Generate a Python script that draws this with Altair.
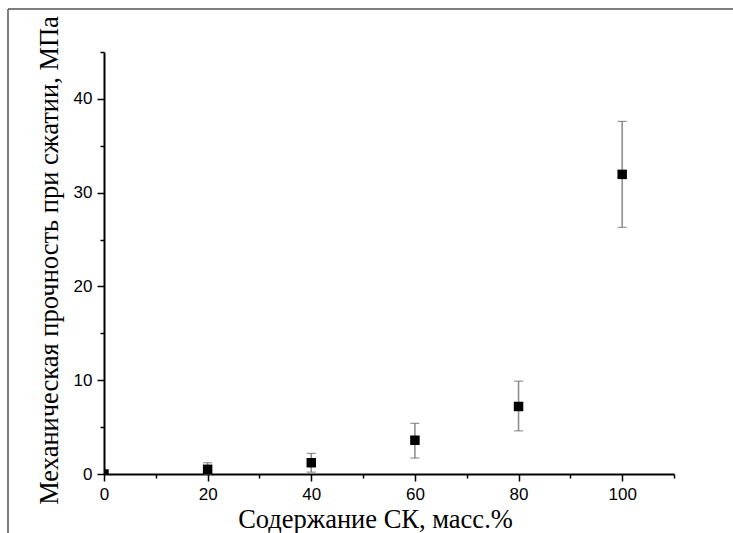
import altair as alt
import pandas as pd

# Data
content = [0, 20, 40, 60, 80, 100]           # Содержание СК, масс.%
strength = [0.0, 0.5, 1.2, 3.6, 7.2, 31.95]   # МПа
err_lo = [0.0, 0.0, 0.2, 1.7, 4.6, 26.3]
err_hi = [0.0, 1.2, 2.2, 5.4, 9.9, 37.6]

x_ticks = [0, 10, 20, 30, 40, 50, 60, 70, 80, 90, 100, 110]
y_ticks = [0, 5, 10, 15, 20, 25, 30, 35, 40, 45]

df = pd.DataFrame({"x": content, "y": strength, "lo": err_lo, "hi": err_hi})
df_err = df[df["hi"] > df["lo"]]

W, H = 570, 422
PAD = {"left": 104, "top": 52, "right": 59, "bottom": 59}

xscale = alt.Scale(domain=[0, 110], nice=False, zero=False)
yscale = alt.Scale(domain=[0, 45], nice=False, zero=False)

XT = "Содержание СК, масс.%"
YT = "Механическая прочность при сжатии, МПа"

common_axis = dict(
    domainColor="black", domainWidth=2, tickColor="black", tickWidth=1.5,
    grid=False, labelFont="Liberation Sans", labelFontSize=17, labelColor="black",
    titleFont="Liberation Serif", titleFontSize=26.5, titleFontWeight="normal",
    titleColor="black", labelFlush=False, labelOverlap=False,
)

x_axis = alt.Axis(
    values=x_ticks, format="d",
    tickSize={"expr": "datum.value % 20 === 0 && datum.value <= 100 ? 7 : 4"},
    labelExpr="datum.value % 20 === 0 && datum.value <= 100 ? datum.label : ''",
    labelPadding=5, title=XT, titlePadding=4, titleX=271, orient="bottom",
    **common_axis,
)
y_axis = alt.Axis(
    values=y_ticks, format="d",
    tickSize={"expr": "datum.value % 10 === 0 ? 7 : 4"},
    labelExpr="datum.value % 10 === 0 ? datum.label : ''",
    labelPadding=5, title=YT, titlePadding=10, titleY=208, orient="left",
    **common_axis,
)

err_base = alt.Chart(df_err)
bars = err_base.mark_rule(color="#8a8a8a", strokeWidth=1.5).encode(
    x=alt.X("x:Q", scale=xscale, axis=x_axis),
    y=alt.Y("lo:Q", scale=yscale, axis=y_axis),
    y2="hi:Q",
)
cap_hi = err_base.mark_tick(color="#666666", orient="horizontal", size=9,
                            thickness=1.2).encode(
    x=alt.X("x:Q", scale=xscale),
    y=alt.Y("hi:Q", scale=yscale),
)
cap_lo = err_base.mark_tick(color="#666666", orient="horizontal", size=9,
                            thickness=1.2).encode(
    x=alt.X("x:Q", scale=xscale),
    y=alt.Y("lo:Q", scale=yscale),
)

points = alt.Chart(df).mark_square(size=90, color="black", opacity=1, clip=True).encode(
    x=alt.X("x:Q", scale=xscale),
    y=alt.Y("y:Q", scale=yscale),
)

frame_data = alt.Data(values=[{"k": 0}])
frame_left = alt.Chart(frame_data).mark_rule(color="#555555", strokeWidth=1.5).encode(
    x=alt.value(-96), y=alt.value(-43), y2=alt.value(533 - 52)
)
frame_top = alt.Chart(frame_data).mark_rule(color="#555555", strokeWidth=1.5).encode(
    x=alt.value(-96), x2=alt.value(733 - 104), y=alt.value(-43)
)

chart = alt.layer(bars, cap_hi, cap_lo, points, frame_left, frame_top).properties(
    width=W, height=H, padding=PAD, autosize=alt.AutoSizeParams(type="none"),
    background="white",
).configure_view(stroke=None)

chart.save("out.html", embed_options={"renderer": "svg", "actions": False})
